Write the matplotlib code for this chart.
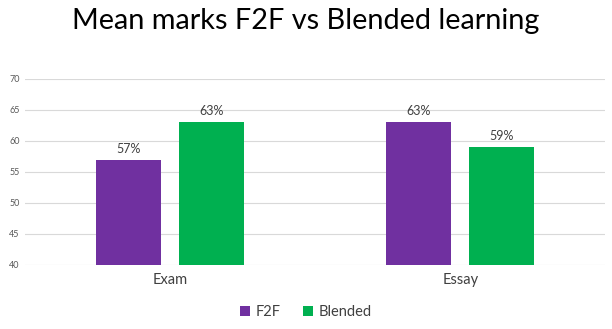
import matplotlib.pyplot as plt
import numpy as np

# Dati
categorie = ["Exam", "Essay"]
f2f = [57, 63]
blended = [63, 59]
serie = ["F2F", "Blended"]
yticks = [40, 45, 50, 55, 60, 65, 70]

col_f2f = "#7030a0"
col_bl = "#00b050"

plt.rcParams['font.family'] = ['Lato', 'DejaVu Sans']

fig = plt.figure(figsize=(6.12, 3.29), dpi=100, facecolor='white')
ax = fig.add_axes([0.041, 0.195, 0.948, 0.565])

x = np.arange(len(categorie))
w = 0.224
off = 0.143
b1 = ax.bar(x - off, np.array(f2f) - 40, w, bottom=40, color=col_f2f, label=serie[0], zorder=3)
b2 = ax.bar(x + off, np.array(blended) - 40, w, bottom=40, color=col_bl, label=serie[1], zorder=3)

for bars, vals in ((b1, f2f), (b2, blended)):
    for r, v in zip(bars, vals):
        ax.text(r.get_x() + r.get_width() / 2, v + 0.8, f"{v}%",
                ha='center', va='bottom', fontsize=9, color='#404040')

ax.set_xlim(-0.5, 1.5)
ax.set_ylim(40, 70)
ax.set_yticks(yticks)
ax.set_xticks(x)
ax.set_xticklabels(categorie, fontsize=10.5, color='#404040')
ax.tick_params(axis='y', labelsize=6.5, labelcolor='#595959', length=0, pad=4)
ax.tick_params(axis='x', length=0, pad=6)
ax.grid(axis='y', color='#d9d9d9', linewidth=0.8, zorder=0)
for s in ax.spines.values():
    s.set_visible(False)

fig.suptitle("Mean marks F2F vs Blended learning", y=0.975, fontsize=20.8, color='black')

fig.legend(handles=[b1, b2], labels=serie, loc='lower center', bbox_to_anchor=(0.5, -0.01),
           ncol=2, frameon=False, fontsize=10.5, handlelength=0.7, handleheight=0.7,
           handletextpad=0.4, columnspacing=1.5, labelcolor='#404040')

plt.savefig("out.png", dpi=100, facecolor='white')
